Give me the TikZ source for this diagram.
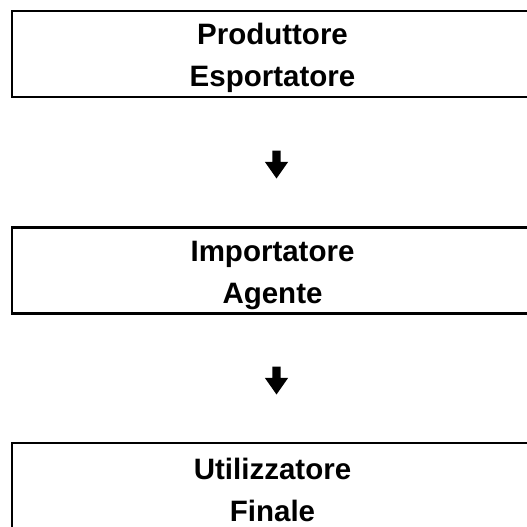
\documentclass[tikz,border=0pt]{standalone}
\usepackage{fontspec}
\setmainfont{Liberation Sans}
\usetikzlibrary{positioning, shapes.arrows}

\begin{document}
\begin{tikzpicture}[
    x=1pt, y=1pt,
    stage/.style={
      draw, line width=2.4pt, minimum width=521pt, minimum height=86pt,
      align=center, inner sep=0pt,
      font=\fontsize{29.5}{42}\selectfont\bfseries
    },
    flowarrow/.style={
      single arrow, fill=black, draw=none, rotate=-90,
      minimum height=28pt, minimum width=23pt, inner sep=4pt,
      single arrow head extend=7.5pt, single arrow tip angle=70
    }
  ]
    \useasboundingbox (0,0) rectangle (527,-527);
    \node[stage] (prod) at (272.5,-54) {\rule{0pt}{30pt}Produttore\\Esportatore};
    \node[stage, below=128pt of prod] (imp) {\rule{0pt}{30pt}Importatore\\Agente};
    \node[stage, below=127pt of imp] (fin) {\rule{0pt}{30pt}Utilizzatore\\Finale};
    \node[flowarrow] (a1) at (276.5,-161.5) {};
    \node[flowarrow] (a2) at (276.5,-377.5) {};
  \end{tikzpicture}
\end{document}
